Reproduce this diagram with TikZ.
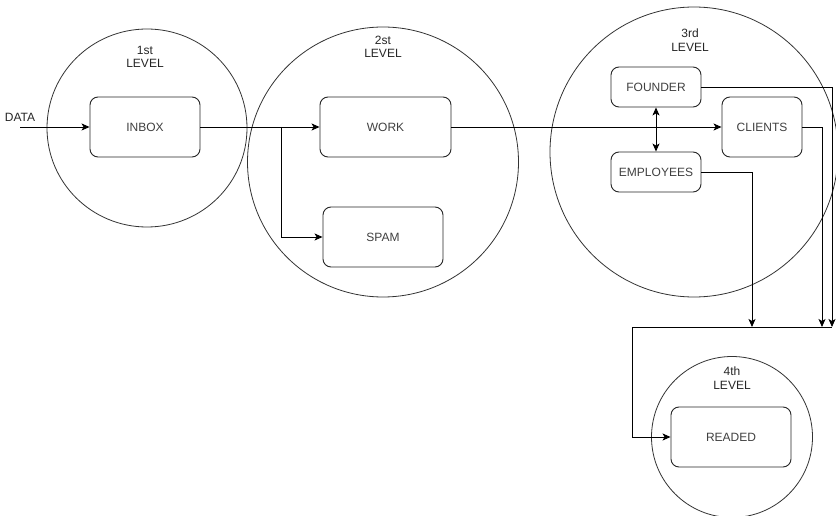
\documentclass[tikz,border=0pt]{standalone}
\usepackage{fontspec}
\setmainfont{Liberation Sans}
\usetikzlibrary{arrows.meta,shapes.geometric}
\begin{document}
\begin{tikzpicture}[x=1pt,y=-1pt,
  txt/.style={font=\fontsize{12}{13.5}\selectfont, text=black!85, inner sep=0pt, align=center},
  box/.style={txt, draw=black!85, line width=0.9pt, rounded corners=8pt, text=black!75},
  level/.style={draw=black!80, line width=0.8pt, ellipse, inner sep=0pt},
  arr/.style={draw=black, line width=0.9pt, -{Stealth[length=8pt,width=7pt,inset=2pt]}},
  arrboth/.style={draw=black, line width=0.9pt, {Stealth[length=8pt,width=7pt,inset=2pt]}-{Stealth[length=8pt,width=7pt,inset=2pt]}},
  wire/.style={draw=black, line width=0.9pt}
]
\useasboundingbox (0,0) rectangle (836,516);
\clip (0,0) rectangle (836,516);
\fill[white] (0,0) rectangle (836,516);

% level rings
\node[level, minimum width=200pt, minimum height=198pt] (ring1) at (147,128) {};
\node[level, minimum width=271pt, minimum height=270pt] (ring2) at (383,162) {};
\node[level, minimum width=288pt, minimum height=290pt] (ring3) at (694,152) {};
\node[level, minimum width=161pt, minimum height=161pt] (ring4) at (732,437) {};

% ring captions
\node[txt] (cap1) at (145,57) {1st\\LEVEL};
\node[txt] (cap2) at (383,47) {2st\\LEVEL};
\node[txt] (cap3) at (690,40) {3rd\\LEVEL};
\node[txt] (cap4) at (732,378) {4th\\LEVEL};

% mail folders
\node[box, minimum width=110pt, minimum height=60pt] (inbox) at (145,127) {INBOX};
\node[box, minimum width=131pt, minimum height=60pt] (work) at (385.5,127) {WORK};
\node[box, minimum width=120pt, minimum height=60pt] (spam) at (383,237) {SPAM};
\node[box, minimum width=90pt, minimum height=40pt] (founder) at (656,87) {FOUNDER};
\node[box, minimum width=90pt, minimum height=40pt] (employees) at (656,172) {EMPLOYEES};
\node[box, minimum width=80pt, minimum height=60pt] (clients) at (762,127) {CLIENTS};
\node[box, minimum width=120pt, minimum height=60pt] (readed) at (731,437) {READED};

% input
\node[txt] (datalbl) at (20,117) {DATA};
\coordinate (datain) at (20,127);

% routing points
\coordinate (split) at (281,127);
\coordinate (busL) at (632,327);
\coordinate (edrop) at (752,327);
\coordinate (cdrop) at (822,327);
\coordinate (fdrop) at (832,327);

% connectors
\draw[arr] (datain) -- (inbox);
\draw[arr] (inbox) -- (work);
\draw[arr] (split) |- (spam);
\draw[arr] (work) -- (clients);
\draw[arrboth] (founder) -- (employees);
\draw[arr] (founder) -| (fdrop);
\draw[arr] (clients) -| (cdrop);
\draw[arr] (employees) -| (edrop);
\draw[wire] (busL) -- (fdrop);
\draw[arr] (busL) |- (readed);
\end{tikzpicture}
\end{document}
